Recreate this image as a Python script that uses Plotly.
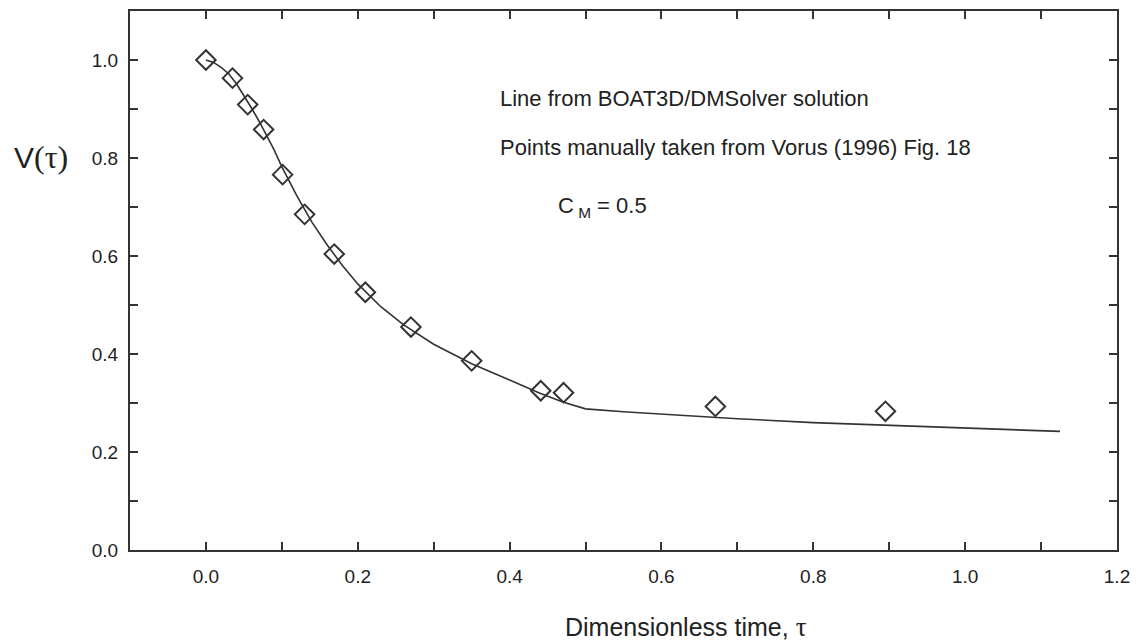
import plotly.graph_objects as go

# Vorus (1996) points
pts_tau = [0.0, 0.035, 0.055, 0.076, 0.101, 0.130, 0.169, 0.210, 0.270, 0.350, 0.441, 0.471, 0.671, 0.895]
pts_v = [1.0, 0.963, 0.909, 0.858, 0.766, 0.685, 0.604, 0.526, 0.455, 0.386, 0.325, 0.321, 0.293, 0.283]

# BOAT3D/DMSolver line
line_tau = [0.0, 0.01, 0.02, 0.03, 0.04, 0.05, 0.06, 0.07, 0.08, 0.09, 0.10, 0.12, 0.14, 0.16, 0.18, 0.20,
            0.23, 0.26, 0.30, 0.35, 0.40, 0.44, 0.47, 0.50, 0.55, 0.60, 0.70, 0.80, 0.90, 1.00, 1.125]
line_v = [1.0, 0.995, 0.985, 0.972, 0.952, 0.928, 0.902, 0.875, 0.847, 0.816, 0.782, 0.722, 0.668, 0.622,
          0.580, 0.543, 0.497, 0.460, 0.420, 0.380, 0.347, 0.320, 0.302, 0.288, 0.282, 0.277, 0.268, 0.260,
          0.254, 0.248, 0.242]

x_tickvals = [0.0, 0.2, 0.4, 0.6, 0.8, 1.0, 1.2]
x_ticktext = ["0.0", "0.2", "0.4", "0.6", "0.8", "1.0", "1.2"]
y_tickvals = [0.0, 0.2, 0.4, 0.6, 0.8, 1.0]
y_ticktext = ["0.0", "0.2", "0.4", "0.6", "0.8", "1.0"]

ink = "#333333"
txt = "#222222"
font = "Liberation Sans, Arial, sans-serif"
serif = "Liberation Serif, Times New Roman, serif"

fig = go.Figure()
fig.add_trace(go.Scatter(x=line_tau, y=line_v, mode="lines",
                         line=dict(color=ink, width=1.6), showlegend=False))
fig.add_trace(go.Scatter(x=pts_tau, y=pts_v, mode="markers",
                         marker=dict(symbol="diamond-open", size=15, color=ink,
                                     line=dict(color=ink, width=2)),
                         showlegend=False))

axis_common = dict(showgrid=False, zeroline=False, showline=True, linecolor=ink, linewidth=2,
                   mirror="ticks", ticks="inside", ticklen=8, tickwidth=2, tickcolor=ink,
                   minor=dict(ticks="inside", dtick=0.1, tick0=0, ticklen=8, tickwidth=2,
                              tickcolor=ink, showgrid=False),
                   tickfont=dict(family=font, size=19, color=txt))
fig.update_xaxes(range=[-0.1, 1.2], tickvals=x_tickvals, ticktext=x_ticktext,
                 ticklabelstandoff=8, **axis_common)
fig.update_yaxes(range=[0.0, 1.1], tickvals=y_tickvals, ticktext=y_ticktext,
                 ticklabelstandoff=6, **axis_common)

ann_font = dict(family=font, size=22, color=txt)
annotations = [
    dict(x=0.385, y=0.921, text="Line from BOAT3D/DMSolver solution"),
    dict(x=0.385, y=0.821, text="Points manually taken from Vorus (1996) Fig. 18"),
    dict(x=0.461, y=0.699, text="C<sub> M</sub> = 0.5"),
]
for a in annotations:
    fig.add_annotation(xref="x", yref="y", xanchor="left", yanchor="middle", showarrow=False,
                       font=ann_font, **a)

fig.add_annotation(xref="paper", yref="paper", x=0.563, y=-0.142, xanchor="center", yanchor="middle",
                   showarrow=False,
                   text=f"Dimensionless time, <span style='font-family:{serif};font-size:27px'>τ</span>",
                   font=dict(family=font, size=25, color=txt))
fig.add_annotation(xref="paper", yref="paper", x=-0.0898, y=0.730, xanchor="center", yanchor="middle",
                   showarrow=False,
                   text=f"V<span style='font-family:{serif};font-size:32px'>(τ)</span>",
                   font=dict(family=font, size=30, color=txt))

fig.update_layout(width=1139, height=643, margin=dict(l=130, r=18, t=9, b=93),
                  plot_bgcolor="white", paper_bgcolor="white")

fig.write_html("out.html")
